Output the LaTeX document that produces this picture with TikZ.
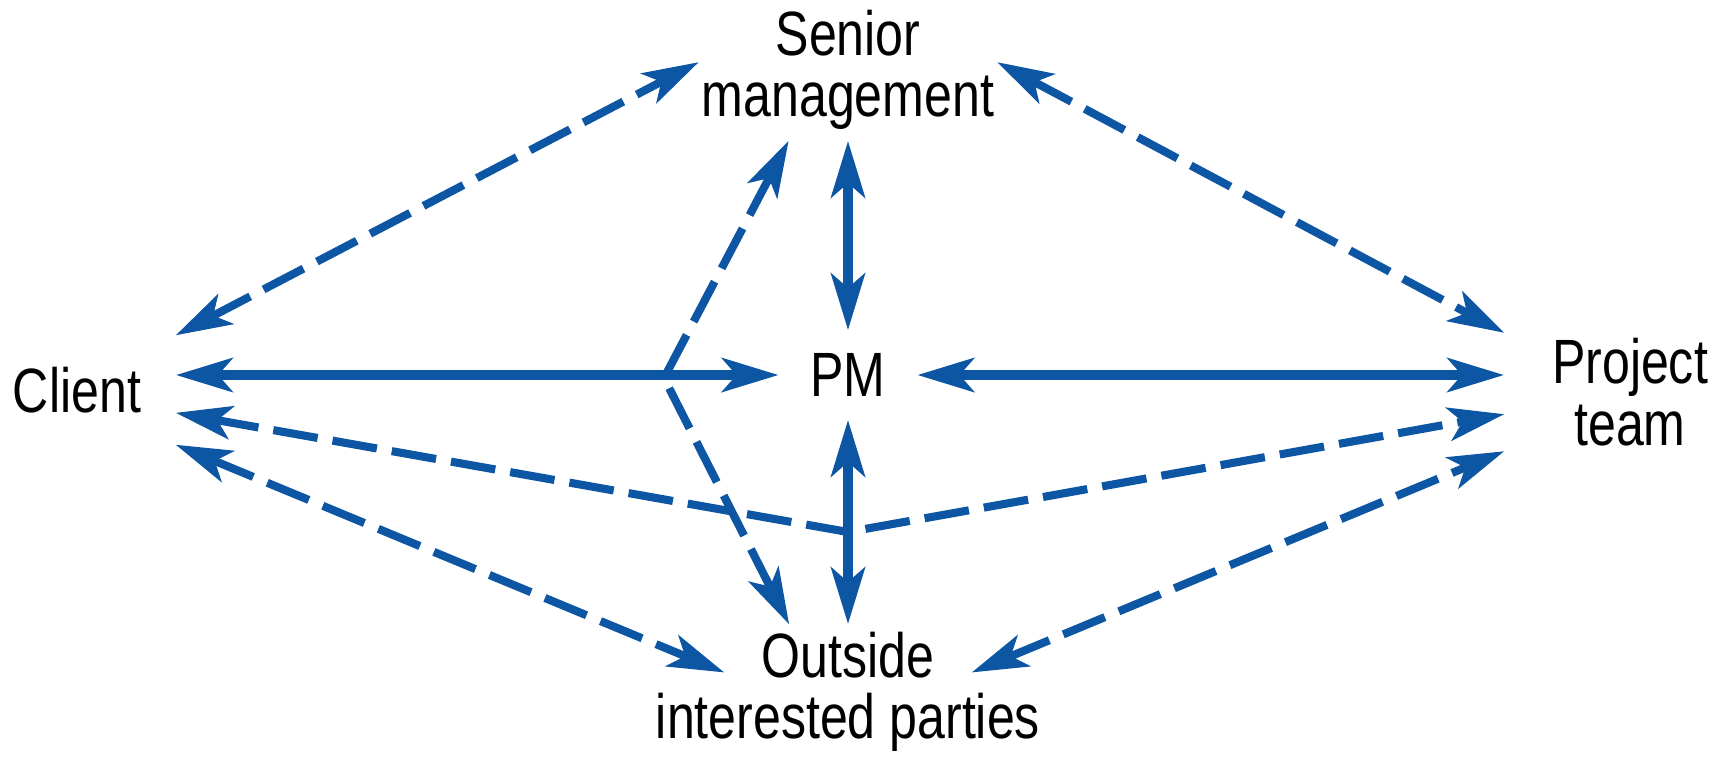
\documentclass[tikz,border=0pt]{standalone}
\usepackage{fontspec}
\setmainfont[FakeStretch=0.8]{Liberation Sans}
\usetikzlibrary{arrows.meta}
\definecolor{linkblue}{RGB}{12,86,164}

\begin{document}
\begin{tikzpicture}[x=0.01cm, y=-0.01cm,
      >={Stealth[length=16pt, width=9.5pt, inset=4pt]},
      party/.style={inner sep=0pt, align=center,
                    font=\fontsize{17.8}{17.5}\selectfont},
      direct/.style={<->, draw=linkblue, line width=3pt},
      indirect/.style={<->, draw=linkblue, line width=2.3pt,
                       dash pattern=on 12.8pt off 4.3pt}]

    \useasboundingbox (0,0) rectangle (1721,759);

    % the five parties, boxes sized so the arrows stop short of the text
    \node[party, minimum width=2.97cm, minimum height=1.40cm] (SM) at (848,70) {Senior\\management};
    \node[party, minimum width=1.96cm, minimum height=1.08cm] (CL) at (77,390) {Client};
    \node[party, minimum width=1.37cm, minimum height=0.88cm] (PM) at (848,375) {PM};
    \node[party, minimum width=2.50cm, minimum height=1.17cm] (PT) at (1630,392) {Project\\team};
    % wide text: box narrower than the second line, text set as a label
    \node[inner sep=0pt, minimum width=2.46cm, minimum height=1.34cm,
          label={[party]center:Outside\\interested parties}] (OP) at (848,692) {};

    \coordinate (V1) at (848,532);
    \coordinate (V2) at (664,378);

    % PM links
    \draw[direct] (CL.east |- PM.west) -- (PM.west);
    \draw[direct] (PM.east) -- (PT.west |- PM.east);
    \draw[direct] (SM.south) -- (PM.north);
    \draw[direct] (PM.south) -- (OP.north);

    % links around the PM
    \draw[indirect] (CL.north east) -- (SM.177);
    \draw[indirect] (SM.3) -- (PT.north west);
    \draw[indirect] (CL.-13) -- (V1) -- (PT.190);
    \draw[indirect] (CL.south east) -- (OP.171);
    \draw[indirect] (OP.9) -- (PT.south west);
    \draw[indirect] (SM.230) -- (V2) -- (OP.131);
\end{tikzpicture}
\end{document}
